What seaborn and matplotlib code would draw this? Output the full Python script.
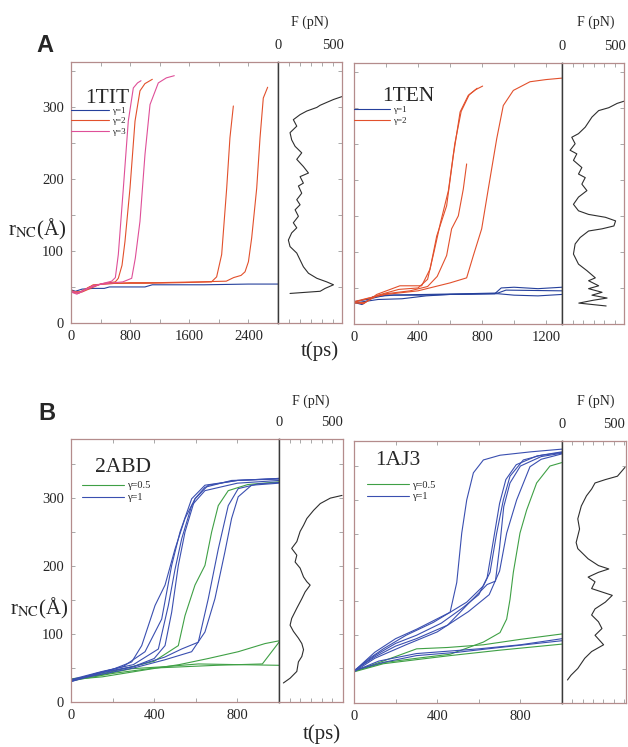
import matplotlib
matplotlib.use("Agg")
import matplotlib.pyplot as plt
import pandas as pd
import seaborn as sns
from matplotlib.ticker import MultipleLocator, FixedLocator

# ---------------- data: panel A, 1TIT ----------------
TIT_blue_t = [0, 60, 150, 300, 450, 520, 1000, 1100, 1800, 2400, 2800]
TIT_blue_r = [46, 44, 47, 48, 48, 50, 50, 53, 53, 54, 54]
TIT_pink1_t = [0, 80, 200, 400, 550, 600, 640, 708, 775, 843, 900, 947]
TIT_pink1_r = [43, 40, 47, 54, 58, 63, 95, 187, 280, 326, 333, 336]
TIT_red1_t = [0, 100, 250, 450, 600, 640, 690, 730, 798, 866, 933, 1000, 1100]
TIT_red1_r = [45, 42, 50, 55, 57, 62, 80, 113, 187, 280, 322, 332, 338]
TIT_pink2_t = [0, 120, 300, 500, 700, 821, 870, 933, 1001, 1069, 1181, 1290, 1397]
TIT_pink2_r = [44, 42, 52, 55, 57, 62, 90, 141, 234, 303, 333, 340, 343]
TIT_red2_t = [0, 100, 300, 600, 1000, 1500, 1900, 1970, 2038, 2106, 2150, 2196]
TIT_red2_r = [43, 41, 53, 55, 55, 56, 57, 64, 95, 187, 257, 301]
TIT_red3_t = [0, 150, 400, 800, 1200, 1700, 2100, 2200, 2300, 2354, 2400, 2444, 2512, 2557, 2601, 2660]
TIT_red3_r = [44, 43, 54, 56, 56, 57, 58, 63, 66, 71, 85, 118, 187, 257, 312, 327]
TIT_F = [109, 382, 427, 503, 442, 352, 276, 230, 170, 109, 94, 124, 170, 139, 185, 155, 200, 170, 215,
         185, 230, 200, 276, 230, 170, 215, 155, 124, 109, 170, 139, 200, 261, 352, 382, 442, 503, 579]
TIT_Fr = [41, 44, 48, 53, 57, 62, 69, 78, 97, 106, 115, 125, 132, 139, 148, 157, 164, 171, 180,
          190, 194, 203, 208, 217, 227, 236, 245, 254, 264, 273, 282, 289, 294, 299, 302, 306, 310, 314]

# ---------------- data: panel A, 1TEN ----------------
TEN_blue1_t = [0, 50, 120, 250, 420, 600, 880, 920, 1000, 1150, 1300]
TEN_blue1_r = [30, 27, 38, 40, 40, 41, 42, 50, 51, 49, 51]
TEN_blue2_t = [0, 60, 150, 300, 450, 600, 900, 1000, 1150, 1300]
TEN_blue2_r = [29, 31, 34, 35, 39, 41, 42, 40, 39, 41]
TEN_blue3_t = [0, 80, 200, 450, 700, 900, 950, 1300]
TEN_blue3_r = [31, 34, 40, 41, 42, 43, 47, 46]
TEN_red1_t = [0, 60, 142, 287, 423, 475, 517, 579, 621, 663, 714, 760, 804]
TEN_red1_r = [30, 28, 41, 53, 53, 76, 122, 164, 234, 294, 317, 325, 330]
TEN_red2_t = [0, 70, 150, 280, 400, 460, 500, 540, 590, 630, 670, 720, 770]
TEN_red2_r = [29, 30, 40, 48, 50, 62, 100, 140, 185, 250, 295, 318, 327]
TEN_red3_t = [0, 80, 200, 350, 460, 520, 579, 610, 652, 683, 704]
TEN_red3_r = [30, 35, 42, 46, 52, 66, 95, 132, 150, 187, 222]
TEN_red4_t = [0, 90, 200, 400, 600, 704, 746, 798, 839, 892, 933, 996, 1100, 1200, 1298]
TEN_red4_r = [31, 36, 41, 46, 57, 64, 95, 132, 187, 257, 303, 324, 336, 339, 341]
TEN_F = [590, 525, 445, 349, 285, 221, 157, 93, 125, 77, 141, 109, 189, 157, 221, 189, 237, 157, 109,
         157, 253, 413, 510, 494, 381, 253, 173, 125, 109, 157, 237, 317, 253, 349, 253, 381, 285, 429,
         300, 160, 420]
TEN_Fr = [309, 306, 300, 296, 287, 273, 264, 259, 250, 241, 236, 227, 217, 208, 203, 194, 185, 176, 166,
          157, 152, 148, 143, 136, 132, 129, 120, 111, 97, 83, 74, 64, 60, 53, 49, 44, 40, 36,
          33, 29, 25]

# ---------------- data: panel B, 2ABD ----------------
ABD_g1_t = [0, 131, 292, 450, 612, 800, 1000]
ABD_g1_r = [34, 39, 49, 52, 56, 55, 54]
ABD_g2_t = [0, 150, 372, 520, 660, 804, 933, 1000]
ABD_g2_r = [33, 37, 48, 55, 64, 74, 86, 90]
ABD_g3_t = [0, 200, 400, 700, 920, 1000]
ABD_g3_r = [31, 42, 50, 54, 56, 88]
ABD_g4_t = [0, 200, 400, 516, 548, 596, 644, 676, 708, 756, 850, 1000]
ABD_g4_r = [32, 45, 60, 83, 127, 172, 201, 250, 289, 311, 320, 324]
ABD_b1_t = [0, 100, 200, 292, 340, 404, 452, 500, 548, 596, 644, 772, 1000]
ABD_b1_r = [32, 40, 48, 59, 83, 142, 172, 225, 270, 299, 316, 326, 328]
ABD_b2_t = [0, 120, 250, 356, 436, 484, 524, 580, 644, 800, 1000]
ABD_b2_r = [30, 42, 52, 74, 122, 201, 250, 299, 319, 326, 329]
ABD_b3_t = [0, 150, 300, 420, 468, 500, 532, 580, 644, 800, 1000]
ABD_b3_r = [33, 45, 55, 78, 142, 195, 240, 289, 311, 322, 326]
ABD_b4_t = [0, 150, 300, 400, 452, 484, 516, 548, 596, 660, 800, 1000]
ABD_b4_r = [31, 44, 52, 64, 83, 132, 201, 250, 299, 319, 326, 329]
ABD_b5_t = [0, 150, 300, 450, 532, 612, 660, 708, 756, 804, 900, 1000]
ABD_b5_r = [30, 43, 52, 66, 78, 88, 152, 225, 289, 314, 321, 323]
ABD_b6_t = [0, 150, 300, 450, 580, 644, 692, 740, 772, 804, 868, 1000]
ABD_b6_r = [32, 41, 50, 62, 74, 103, 152, 221, 270, 302, 319, 322]
ABD_F = [591, 481, 387, 324, 261, 230, 198, 167, 119, 167, 151, 198, 230, 261, 292, 245, 214, 167,
         119, 104, 135, 182, 214, 230, 214, 182, 167, 104, 41]
ABD_Fr = [304, 300, 292, 282, 270, 260, 251, 236, 226, 216, 206, 197, 184, 177, 172, 162, 152, 138,
          123, 113, 104, 94, 86, 77, 67, 59, 45, 35, 28]

# ---------------- data: panel B, 1AJ3 ----------------
AJ3_g1_t = [0, 141, 300, 462, 700, 1000]
AJ3_g1_r = [46, 58, 64, 70, 78, 87]
AJ3_g2_t = [0, 141, 301, 450, 622, 800, 1000]
AJ3_g2_r = [47, 62, 80, 82, 86, 94, 102]
AJ3_g3_t = [0, 150, 300, 462, 622, 702, 734, 750, 766, 798, 830, 878, 942, 998]
AJ3_g3_r = [47, 60, 66, 72, 90, 104, 124, 153, 193, 251, 285, 325, 350, 355]
AJ3_b1_t = [0, 141, 300, 500, 700, 1000]
AJ3_b1_r = [48, 60, 70, 75, 82, 92]
AJ3_b2_t = [0, 120, 300, 600, 800, 1000]
AJ3_b2_r = [47, 62, 73, 80, 86, 95]
AJ3_b3_t = [0, 70, 141, 250, 381, 462, 494, 518, 542, 574, 622, 702, 850, 1000]
AJ3_b3_r = [47, 65, 80, 100, 119, 134, 178, 251, 300, 340, 359, 366, 371, 375]
AJ3_b4_t = [0, 100, 200, 301, 462, 542, 622, 654, 686, 718, 750, 814, 900, 1000]
AJ3_b4_r = [47, 75, 95, 109, 134, 149, 173, 193, 251, 300, 335, 359, 366, 371]
AJ3_b5_t = [0, 100, 200, 300, 420, 520, 600, 640, 670, 700, 730, 780, 880, 1000]
AJ3_b5_r = [47, 70, 88, 100, 118, 140, 160, 185, 240, 295, 330, 352, 365, 370]
AJ3_b6_t = [0, 100, 200, 300, 450, 560, 640, 680, 700, 720, 750, 800, 900, 1000]
AJ3_b6_r = [48, 68, 84, 95, 115, 150, 175, 180, 230, 290, 325, 350, 364, 369]
AJ3_b7_t = [0, 100, 250, 400, 550, 650, 700, 734, 782, 846, 900, 1000]
AJ3_b7_r = [46, 66, 86, 105, 135, 160, 195, 251, 300, 349, 360, 368]
AJ3_F = [610, 537, 420, 320, 287, 237, 187, 153, 170, 137, 153, 253, 353, 453, 353, 253, 320, 287,
         387, 487, 420, 320, 287, 353, 387, 320, 403, 287, 220, 153, 87, 53]
AJ3_Fr = [348, 335, 330, 325, 316, 306, 291, 272, 257, 237, 228, 213, 203, 198, 193, 186, 179, 169,
          164, 159, 149, 139, 130, 120, 110, 100, 86, 76, 66, 51, 41, 34]

# ---------------- style ----------------
sns.set_theme(style="white")
plt.rcParams["font.family"] = ["Liberation Serif", "DejaVu Serif"]
plt.rcParams["mathtext.fontset"] = "stix"

FRAME = "#b48c8c"
DIV = "#3a3a3a"
TICK = "#9a9a9a"
BLUE_A = "#25409c"
RED = "#e2502c"
PINK = "#df4f98"
GREEN = "#3fa045"
BLUE_B = "#3a4fb0"

W, H = 628, 747
fig = plt.figure(figsize=(W / 100, H / 100), dpi=100)


def px_axes(x0, x1, y0, y1):
    return fig.add_axes([x0 / W, 1 - y1 / H, (x1 - x0) / W, (y1 - y0) / H])


def traj_frame(runs):
    rows = []
    for name, lab, t, r in runs:
        for ti, ri in zip(t, r):
            rows.append((name, lab, ti, ri))
    return pd.DataFrame(rows, columns=["run", "gamma", "t", "r"])


def main_panel(ax, runs, order, palette, xlim, ylim, xticks, xminor, ylabels,
               title, title_xy, leg_xy, leg_fs, leg_hl):
    df = traj_frame(runs)
    sns.lineplot(data=df, x="t", y="r", hue="gamma", hue_order=order, units="run",
                 estimator=None, sort=False, palette=palette, lw=0.8, ax=ax)
    ax.set_xlim(*xlim)
    ax.set_ylim(*ylim)
    ax.xaxis.set_major_locator(FixedLocator(xticks))
    ax.xaxis.set_minor_locator(MultipleLocator(xminor))
    ax.yaxis.set_major_locator(MultipleLocator(100))
    ax.yaxis.set_minor_locator(MultipleLocator(50))
    ax.tick_params(which="both", direction="in", top=True, right=False, left=True,
                   bottom=True, color=TICK, length=3, width=0.6, labelsize=10.5,
                   labelleft=ylabels, pad=5)
    for s in ax.spines.values():
        s.set_color(FRAME)
        s.set_linewidth(0.9)
    ax.spines["right"].set_color(DIV)
    ax.spines["right"].set_linewidth(1.0)
    ax.set_xlabel("")
    ax.set_ylabel("")
    ax.set_facecolor("white")
    ax.text(title_xy[0], title_xy[1], title, transform=ax.transAxes, fontsize=15.5,
            ha="left", va="center")
    handles, labels = ax.get_legend_handles_labels()
    ax.legend(handles, labels, loc="upper left", bbox_to_anchor=leg_xy, frameon=False,
              fontsize=leg_fs, handlelength=leg_hl, handletextpad=0.3, borderpad=0,
              borderaxespad=0, labelspacing=0.25, title=None)


def force_panel(ax, F, r, ylim, fmax):
    sns.lineplot(x=F, y=r, sort=False, estimator=None, color="#2e2e2e", lw=0.8, ax=ax)
    ax.set_xlim(0, fmax)
    ax.set_ylim(*ylim)
    ax.xaxis.set_major_locator(FixedLocator([0, 500]))
    ax.xaxis.set_minor_locator(MultipleLocator(100))
    ax.yaxis.set_major_locator(MultipleLocator(50))
    ax.tick_params(which="both", direction="in", top=True, bottom=True, left=False,
                   right=True, labeltop=True, labelbottom=False, labelleft=False,
                   color=TICK, length=3, width=0.6, labelsize=10.5, pad=7)
    for s in ax.spines.values():
        s.set_color(FRAME)
        s.set_linewidth(0.9)
    ax.spines["left"].set_color(DIV)
    ax.spines["left"].set_linewidth(1.0)
    ax.set_xlabel("")
    ax.set_ylabel("")
    ax.set_facecolor("white")


# ---------------- panel A ----------------
YA = (0, 362)
axA1 = px_axes(71, 278, 62, 323)
main_panel(axA1,
           [("b", "γ=1", TIT_blue_t, TIT_blue_r),
            ("r2", "γ=2", TIT_red2_t, TIT_red2_r),
            ("r3", "γ=2", TIT_red3_t, TIT_red3_r),
            ("r1", "γ=2", TIT_red1_t, TIT_red1_r),
            ("p1", "γ=3", TIT_pink1_t, TIT_pink1_r),
            ("p2", "γ=3", TIT_pink2_t, TIT_pink2_r)],
           ["γ=1", "γ=2", "γ=3"], {"γ=1": BLUE_A, "γ=2": RED, "γ=3": PINK},
           (0, 2800), YA, [0, 800, 1600, 2400], 400, True,
           "1TIT", (0.068, 0.862), (0.0, 0.83), 6.5, 4.2)
axA1f = px_axes(278, 342, 62, 323)
force_panel(axA1f, TIT_F, TIT_Fr, YA, 580)

axA2 = px_axes(354, 562, 63, 324)
main_panel(axA2,
           [("b1", "γ=1", TEN_blue1_t, TEN_blue1_r),
            ("b2", "γ=1", TEN_blue2_t, TEN_blue2_r),
            ("b3", "γ=1", TEN_blue3_t, TEN_blue3_r),
            ("r1", "γ=2", TEN_red1_t, TEN_red1_r),
            ("r2", "γ=2", TEN_red2_t, TEN_red2_r),
            ("r3", "γ=2", TEN_red3_t, TEN_red3_r),
            ("r4", "γ=2", TEN_red4_t, TEN_red4_r)],
           ["γ=1", "γ=2"], {"γ=1": BLUE_A, "γ=2": RED},
           (0, 1300), YA, [0, 400, 800, 1200], 200, False,
           "1TEN", (0.135, 0.87), (0.0, 0.835), 6.5, 4.0)
axA2f = px_axes(562, 624, 63, 324)
force_panel(axA2f, TEN_F, TEN_Fr, YA, 590)

# ---------------- panel B ----------------
YB = (0, 387)
axB1 = px_axes(71, 279, 439, 702)
main_panel(axB1,
           [("g1", "γ=0.5", ABD_g1_t, ABD_g1_r),
            ("g2", "γ=0.5", ABD_g2_t, ABD_g2_r),
            ("g3", "γ=0.5", ABD_g3_t, ABD_g3_r),
            ("g4", "γ=0.5", ABD_g4_t, ABD_g4_r),
            ("b1", "γ=1", ABD_b1_t, ABD_b1_r),
            ("b2", "γ=1", ABD_b2_t, ABD_b2_r),
            ("b3", "γ=1", ABD_b3_t, ABD_b3_r),
            ("b4", "γ=1", ABD_b4_t, ABD_b4_r),
            ("b5", "γ=1", ABD_b5_t, ABD_b5_r),
            ("b6", "γ=1", ABD_b6_t, ABD_b6_r)],
           ["γ=0.5", "γ=1"], {"γ=0.5": GREEN, "γ=1": BLUE_B},
           (0, 1000), YB, [0, 400, 800], 200, True,
           "2ABD", (0.115, 0.89), (0.053, 0.84), 7.5, 4.0)
axB1f = px_axes(279, 343, 439, 702)
force_panel(axB1f, ABD_F, ABD_Fr, YB, 600)

axB2 = px_axes(354, 562, 441, 703)
main_panel(axB2,
           [("g1", "γ=0.5", AJ3_g1_t, AJ3_g1_r),
            ("g2", "γ=0.5", AJ3_g2_t, AJ3_g2_r),
            ("g3", "γ=0.5", AJ3_g3_t, AJ3_g3_r),
            ("b1", "γ=1", AJ3_b1_t, AJ3_b1_r),
            ("b2", "γ=1", AJ3_b2_t, AJ3_b2_r),
            ("b3", "γ=1", AJ3_b3_t, AJ3_b3_r),
            ("b4", "γ=1", AJ3_b4_t, AJ3_b4_r),
            ("b5", "γ=1", AJ3_b5_t, AJ3_b5_r),
            ("b6", "γ=1", AJ3_b6_t, AJ3_b6_r),
            ("b7", "γ=1", AJ3_b7_t, AJ3_b7_r)],
           ["γ=0.5", "γ=1"], {"γ=0.5": GREEN, "γ=1": BLUE_B},
           (0, 1000), YB, [0, 400, 800], 200, False,
           "1AJ3", (0.10, 0.927), (0.0625, 0.85), 7.5, 4.0)
axB2f = px_axes(562, 626, 441, 703)
force_panel(axB2f, AJ3_F, AJ3_Fr, YB, 620)

# ---------------- figure-level labels ----------------
def ftext(x, y, s, **kw):
    fig.text(x / W, 1 - y / H, s, **kw)

ftext(45, 45, "A", fontsize=17, fontweight="bold", family="Liberation Sans", ha="center", va="center")
ftext(47, 413, "B", fontsize=17, fontweight="bold", family="Liberation Sans", ha="center", va="center")
for x, y in [(310, 22), (596, 22), (311, 401), (596, 401)]:
    ftext(x, y, "F (pN)", fontsize=10, ha="center", va="center")
ftext(320, 351, "t(ps)", fontsize=15, ha="center", va="center")
ftext(322, 734, "t(ps)", fontsize=15, ha="center", va="center")
ftext(37, 229, r"r$_{\mathrm{NC}}$(Å)", fontsize=15, ha="center", va="center")
ftext(39, 608, r"r$_{\mathrm{NC}}$(Å)", fontsize=15, ha="center", va="center")

fig.savefig("out.png", dpi=100, facecolor="white")
